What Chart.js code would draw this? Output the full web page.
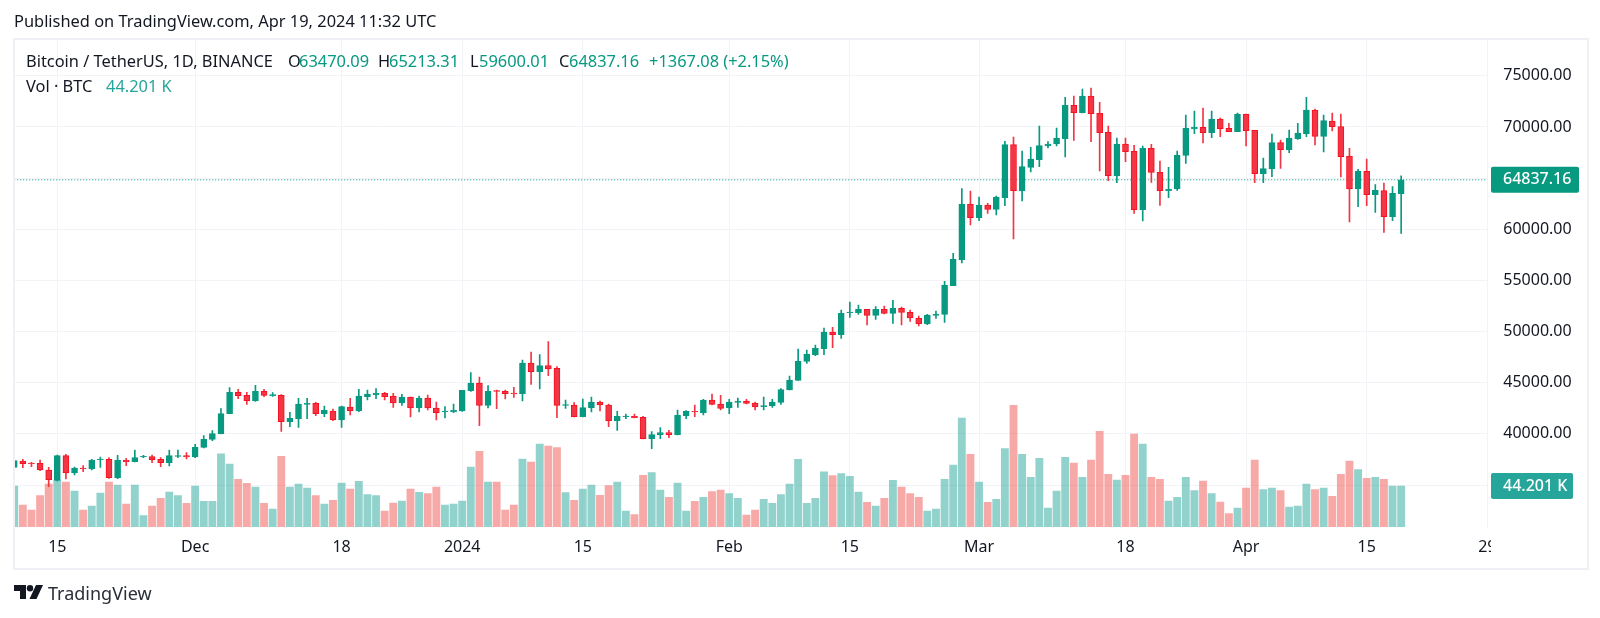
<!DOCTYPE html>
<html><head><meta charset="utf-8">
<script src="https://cdn.jsdelivr.net/npm/chart.js@4"></script>
<style>
html,body{margin:0;padding:0;background:#fff;width:1600px;height:618px;overflow:hidden}
body{position:relative;font-family:"Noto Sans",sans-serif;color:#131722}
canvas{position:absolute;left:0;top:0}
.t{position:absolute;white-space:nowrap;font-size:16.4px;line-height:20px}
.g{color:#089981}.v{color:#26a69a}
#frame{position:absolute;left:13px;top:38px;width:1572px;height:528px;border:2px solid #eff0f6;box-sizing:content-box;pointer-events:none}
</style></head><body>
<canvas id="c" width="1600" height="618"></canvas>
<div id="frame"></div>
<div class="t" style="left:14px;top:11px">Published on TradingView.com, Apr 19, 2024 11:32 UTC</div>
<div class="t" style="left:26px;top:51px">Bitcoin / TetherUS, 1D, BINANCE</div>
<div class="t" style="left:288px;top:51px">O</div><div class="t g" style="left:299px;top:51px">63470.09</div>
<div class="t" style="left:378px;top:51px">H</div><div class="t g" style="left:389px;top:51px">65213.31</div>
<div class="t" style="left:470px;top:51px">L</div><div class="t g" style="left:479px;top:51px">59600.01</div>
<div class="t" style="left:559px;top:51px">C</div><div class="t g" style="left:569px;top:51px">64837.16</div>
<div class="t g" style="left:649px;top:51px">+1367.08 (+2.15%)</div>
<div class="t" style="left:26px;top:76px">Vol · BTC</div><div class="t v" style="left:106px;top:76px">44.201 K</div>
<svg style="position:absolute;left:14px;top:585px" width="29" height="14" viewBox="0 0 29 14"><path d="M0 0H12V14H6V6H0Z M22 0H29L22.5 14H15.5Z" fill="#131722"/><circle cx="16" cy="3.2" r="3.2" fill="#131722"/></svg>
<div class="t" style="left:48px;top:580px;font-size:18px;line-height:26px;color:#2a2e39">TradingView</div>
<script>
const labels=["Nov 10","Nov 11","Nov 12","Nov 13","Nov 14","Nov 15","Nov 16","Nov 17","Nov 18","Nov 19","Nov 20","Nov 21","Nov 22","Nov 23","Nov 24","Nov 25","Nov 26","Nov 27","Nov 28","Nov 29","Nov 30",
"Dec 1","Dec 2","Dec 3","Dec 4","Dec 5","Dec 6","Dec 7","Dec 8","Dec 9","Dec 10","Dec 11","Dec 12","Dec 13","Dec 14","Dec 15","Dec 16","Dec 17","Dec 18","Dec 19","Dec 20","Dec 21","Dec 22","Dec 23","Dec 24","Dec 25","Dec 26","Dec 27","Dec 28","Dec 29","Dec 30","Dec 31",
"Jan 1","Jan 2","Jan 3","Jan 4","Jan 5","Jan 6","Jan 7","Jan 8","Jan 9","Jan 10","Jan 11","Jan 12","Jan 13","Jan 14","Jan 15","Jan 16","Jan 17","Jan 18","Jan 19","Jan 20","Jan 21","Jan 22","Jan 23","Jan 24","Jan 25","Jan 26","Jan 27","Jan 28","Jan 29","Jan 30","Jan 31",
"Feb 1","Feb 2","Feb 3","Feb 4","Feb 5","Feb 6","Feb 7","Feb 8","Feb 9","Feb 10","Feb 11","Feb 12","Feb 13","Feb 14","Feb 15","Feb 16","Feb 17","Feb 18","Feb 19","Feb 20","Feb 21","Feb 22","Feb 23","Feb 24","Feb 25","Feb 26","Feb 27","Feb 28","Feb 29",
"Mar 1","Mar 2","Mar 3","Mar 4","Mar 5","Mar 6","Mar 7","Mar 8","Mar 9","Mar 10","Mar 11","Mar 12","Mar 13","Mar 14","Mar 15","Mar 16","Mar 17","Mar 18","Mar 19","Mar 20","Mar 21","Mar 22","Mar 23","Mar 24","Mar 25","Mar 26","Mar 27","Mar 28","Mar 29","Mar 30","Mar 31",
"Apr 1","Apr 2","Apr 3","Apr 4","Apr 5","Apr 6","Apr 7","Apr 8","Apr 9","Apr 10","Apr 11","Apr 12","Apr 13","Apr 14","Apr 15","Apr 16","Apr 17","Apr 18","Apr 19","Apr 20","Apr 21","Apr 22","Apr 23","Apr 24","Apr 25","Apr 26","Apr 27","Apr 28","Apr 29"];
const opens=[36734,37353,37157,37125,36473,35463,37874,36180,36669,36571,
37483,37515,35724,37418,37287,37743,37776,37515,37190,37808,
37874,37743,38688,39470,40024,41979,44064,43771,43250,44162,
43738,43771,41197,41490,42891,42989,41979,42240,41360,42631,
42240,43641,43836,43966,43706,43022,43608,42533,43510,42533,
42175,42142,42240,44227,44976,42794,44227,44162,43999,43934,
46931,46084,46670,46410,42794,42826,41686,42566,43119,42826,
41295,41686,41719,41621,39536,39927,40122,39927,41784,42207,
42077,43315,42924,42533,43087,43217,43024,42665,42731,43089,
44295,45239,47096,47715,48334,49963,49703,51853,51853,52178,
51592,52178,51788,52276,51886,51300,50745,51592,51690,54492,
57033,62474,61138,62376,61952,63093,68273,63745,66058,66807,
68143,68339,68860,72118,71401,73030,71336,69479,65211,68339,
67622,61920,67915,65569,63778,63941,67231,69805,69968,69447,
70783,69870,69545,71271,69675,65440,65896,68469,67785,68860,
69349,71662,69088,70587,70033,67166,63941,65667,63387,63778,
61237,63470.09];
const closes=[37385,37092,37092,36473,35528,37874,36180,36669,36603,37418,
37548,35724,37418,37287,37678,37808,37483,37190,37874,37874,
37743,38688,39470,40024,41979,44064,43738,43250,44162,43771,
43836,41197,41523,42924,42989,41979,42305,41360,42663,42272,
43706,43901,43966,43640,43022,43608,42533,43510,42533,42077,
42240,42305,44260,44976,42794,44162,44162,43934,43934,46931,
46084,46670,46345,42794,42859,41686,42566,43119,42826,41295,
41719,41751,41588,39536,39927,40122,39927,41816,42207,42174,
43315,42892,42500,43119,43217,42989,42633,42763,43121,44327,
45272,47128,47813,48367,49963,49703,51788,51918,52178,51592,
52178,51788,52276,51886,51332,50778,51625,51722,54557,57066,
62474,61138,62376,61952,63158,68273,63778,66123,66873,68176,
68339,68925,72118,71401,73030,71303,69446,65244,68339,67589,
61920,67915,65569,63778,63941,67231,69870,69968,69447,70783,
69838,69545,71271,69642,65440,65928,68469,67785,68925,69414,
71662,69088,70620,70033,67101,63941,65667,63387,63810,61237,
63517,64837.16];
const highs=[37515,37515,37222,37450,36734,37939,38004,36766,36897,37515,
37743,37678,37907,37613,38428,37907,37939,37678,38428,38428,
38167,38982,39829,40317,42468,44520,44357,44064,44748,44357,
44031,43836,42109,43478,43478,43087,42728,42435,42728,43478,
44357,44292,44422,44064,43966,43869,43608,43706,43803,43119,
42663,42924,44260,45986,45563,44716,44292,44292,44553,47224,
48006,47746,49016,46573,43315,43054,43413,43608,43217,42924,
42207,41947,41947,41719,40220,40611,40350,42337,42272,42826,
43380,43901,43771,43380,43510,43380,43121,43610,43382,44424,
45663,48301,48204,48692,50354,50419,52113,52895,52602,52178,
52439,52504,53058,52406,52113,51527,51690,52015,54915,57652,
63973,63745,63158,62539,63256,68599,69023,67654,68013,70098,
68567,69902,72900,73030,73714,73812,72411,70098,68925,68925,
68208,68143,68306,66677,66058,67654,71173,71565,71858,71565,
70880,70359,71369,71271,69675,66971,69316,68730,69707,70359,
72900,71760,71174,71369,71271,67915,65863,66873,64364,64527,
64169,65213.31];
const lows=[36636,36701,36798,36408,34844,35398,35593,35984,36310,36473,
36734,35659,35626,36897,37255,37678,37190,36798,36863,37678,
37548,37678,38623,39340,39991,41979,43445,42891,43184,43641,
43673,40252,40708,40643,41490,41784,41686,41295,40643,41849,
42174,43315,43445,43315,42598,42793,41653,42142,42337,41360,
41556,42077,42200,44162,40806,42533,42468,43413,43575,43217,
44846,44390,45693,41588,42500,41653,41653,42142,42240,40708,
40350,41491,41556,39500,38558,39536,39633,39894,41490,41686,
41849,42826,42337,41979,42598,42924,42339,42339,42600,42893,
44295,45239,46900,47650,47748,48431,49344,51397,51690,50647,
51201,51722,50810,50647,51006,50550,50680,51299,50908,54492,
56707,60421,60845,61562,61399,62311,59053,62767,65602,66123,
67948,68143,67068,68697,71369,68567,65700,64755,64559,66612,
61562,60813,64592,62344,63093,63810,66449,69349,68437,68958,
69056,69545,69545,68144,64560,64560,65146,65961,67492,68795,
69056,68241,67557,69610,65114,60715,62214,62312,61660,59706,
60846,59600.01];
const volumes=[44.2,23.7,18.3,33.8,46.3,50.7,48.5,38.8,18.3,22.6,
36.6,48.5,45.3,24.8,45.3,12.2,22.6,30.9,37.7,33.8,
25.5,44.2,27.7,27.7,79.0,67.9,51.4,47.1,43.1,25.5,
19.4,76.2,43.1,46.3,42.0,33.8,24.8,28.7,47.4,41.0,
49.2,34.9,34.0,17.2,25.9,28.0,41.0,37.4,35.9,43.1,
23.7,24.8,28.0,64.7,81.6,48.5,48.5,18.3,23.7,73.3,
70.1,89.5,87.3,85.5,37.0,28.7,41.0,45.3,34.1,44.6,
48.5,17.2,13.3,55.7,58.6,39.9,32.0,47.4,17.2,27.7,
32.0,38.1,39.9,35.9,30.9,12.9,18.3,29.8,25.5,34.9,
46.3,72.9,25.5,30.9,59.6,55.3,57.5,54.6,37.7,26.6,
22.6,30.9,50.3,43.1,35.9,32.0,17.2,19.4,51.4,66.8,
117.5,78.3,48.5,26.6,29.8,84.4,131.1,78.3,53.5,74.0,
20.5,38.8,75.1,69.0,53.5,72.2,103.1,56.8,50.7,55.7,
100.2,89.5,53.5,51.4,28.0,32.0,53.5,39.2,49.6,35.9,
26.9,14.4,20.5,42.0,72.2,40.2,42.0,39.2,21.6,22.6,
46.3,40.2,42.0,33.1,56.8,71.1,61.8,52.5,53.5,51.4,
44.2,44.201];
const priceTicks=[35000,40000,45000,50000,55000,60000,65000,70000,75000];
const timeTickIndex=[5,21,38,52,66,83,97,112,129,143,157,171];
const timeTickText=["15","Dec","18","2024","15","Feb","15","Mar","18","Apr","15","29"];
const lastClose=64837.16, lastVolume=44.201;
const UP="#089981",DOWN="#f23645",UPV="rgba(38,166,154,0.5)",DOWNV="rgba(239,83,80,0.5)";
const GRID='#f2f3f6';
const isUp=closes.map((c,i)=>c>=opens[i]);
const FONT='"Noto Sans",sans-serif';
const tags={id:'tags',afterDraw(ch){
  const c=ch.ctx;
  c.save();
  c.fillStyle='#fff';c.fillRect(1491,530,60,34);
  const tag=(x0,x1,yc,col,txt)=>{c.fillStyle=col;c.beginPath();c.roundRect(x0,yc-13,x1-x0,26,2);c.fill();
    c.fillStyle='#fff';c.font='500 16px '+FONT;c.textAlign='left';c.textBaseline='middle';c.fillText(txt,1503,yc);};
  tag(1491,1579,ch.scales.y.getPixelForValue(lastClose),UP,lastClose.toFixed(2));
  tag(1491,1573,ch.scales.yVol.getPixelForValue(lastVolume),'#26a69a',lastVolume.toFixed(3)+' K');
  c.restore();
}};
new Chart(document.getElementById('c'),{
 type:'bar',
 data:{labels,datasets:[
  {label:'Body',order:1,grouped:false,yAxisID:'y',barThickness:6,borderWidth:1,borderSkipped:false,
   data:opens.map((o,i)=>[o,closes[i]]),backgroundColor:isUp.map(u=>u?UP:DOWN),borderColor:isUp.map(u=>u?UP:'#f7101f')},
  {label:'Wick',order:2,grouped:false,yAxisID:'y',barThickness:1,
   data:lows.map((l,i)=>[l,highs[i]]),backgroundColor:isUp.map(u=>u?UP:DOWN)},
  {label:'Last',type:'line',order:3,yAxisID:'y',data:labels.map(()=>lastClose),borderColor:UP,borderWidth:1,borderDash:[1,2],pointRadius:0},
  {label:'Vol',order:4,grouped:false,yAxisID:'yVol',barThickness:7.2,
   data:volumes,backgroundColor:isUp.map(u=>u?UPV:DOWNV)}
 ]},
 options:{responsive:false,animation:false,devicePixelRatio:1,
  layout:{padding:{left:14.23,top:39,right:0,bottom:0}},
  plugins:{legend:{display:false},tooltip:{enabled:false}},
  scales:{
   x:{offset:false,grid:{color:GRID,drawTicks:false,offset:false},border:{display:false},
     afterBuildTicks(a){a.ticks=timeTickIndex.map(v=>({value:v}));},
     afterFit(a){a.height=91;},
     ticks:{autoSkip:false,maxRotation:0,padding:11,color:'#131722',font:{family:FONT,size:16},
       callback(v){return timeTickText[timeTickIndex.indexOf(v)];}}},
   y:{position:'right',min:30900,max:78600,grid:{color:GRID,drawTicks:false},border:{color:GRID},
     afterBuildTicks(a){a.ticks=priceTicks.map(v=>({value:v}));},
     afterFit(a){a.width=112.7;},
     ticks:{padding:16,color:'#131722',font:{family:FONT,size:16},callback(v){return v.toFixed(2);}}},
   yVol:{display:false,min:0,max:526}
  }
 },
 plugins:[tags]
});
</script>
</body></html>
